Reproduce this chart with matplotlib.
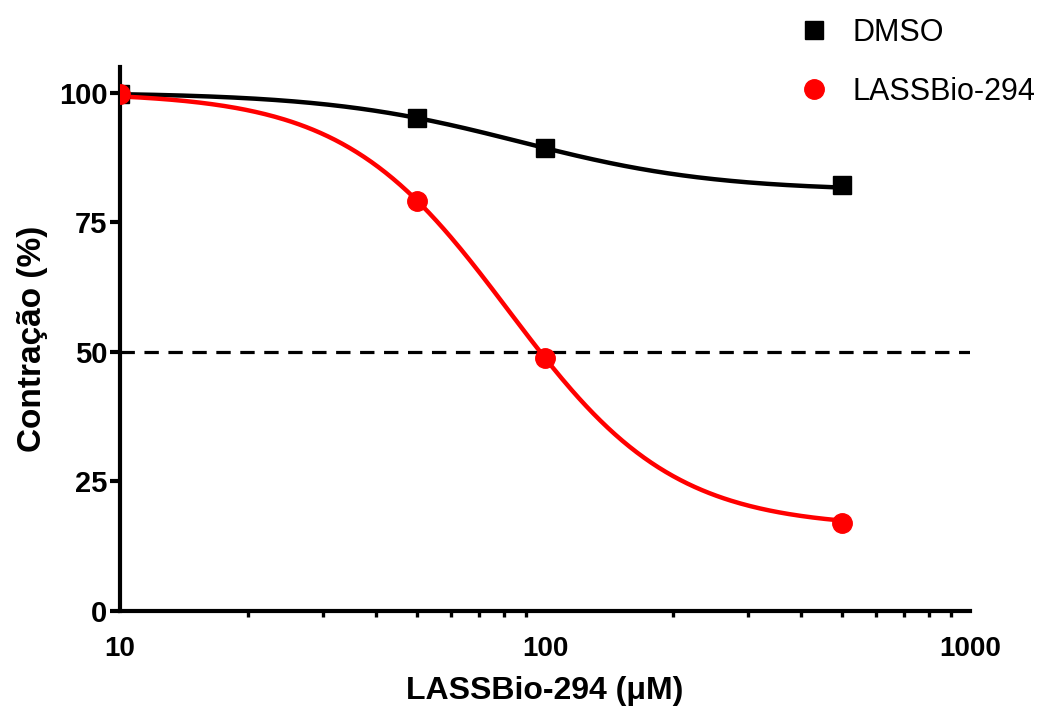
import numpy as np
import matplotlib as mpl
mpl.use('Agg')
import matplotlib.pyplot as plt
from matplotlib.lines import Line2D
from matplotlib.ticker import FixedLocator, NullFormatter, LogLocator

mpl.rcParams.update({'font.family': ['Liberation Sans', 'DejaVu Sans'], 'font.weight': 'bold'})

# concentrations (uM) and % contraction
conc = [10, 50, 100, 500]
dmso = [99.8, 95.1, 89.3, 82.2]
lassbio = [99.8, 79.1, 48.8, 17.0]

# four-parameter logistic fits: top, bottom, IC50, Hill slope
dmso_fit = dict(top=100.0, bottom=81.0, ic50=87.4, hill=1.89)
lassbio_fit = dict(top=100.0, bottom=16.0, ic50=82.0, hill=2.24)

def logistic(x, top, bottom, ic50, hill):
    return bottom + (top - bottom) / (1 + (x / ic50) ** hill)

fig = plt.figure(figsize=(10.54, 7.09), dpi=100)
ax = fig.add_axes([0.1139, 0.1382, 0.8064, 0.7678])

xs = np.logspace(1, np.log10(500), 300)
ax.axhline(50, color='k', lw=2.3, ls=(0, (4.5, 3.0)), zorder=1)
ax.plot(xs, logistic(xs, **dmso_fit), color='k', lw=3.2, zorder=2, solid_capstyle='butt')
ax.plot(xs, logistic(xs, **lassbio_fit), color='#ff0000', lw=3.2, zorder=2, solid_capstyle='butt')
ax.plot(conc, dmso, 's', color='k', ms=13.5, ls='none', zorder=3)
ax.plot(conc, lassbio, 'o', color='#ff0000', ms=14, ls='none', zorder=3)

ax.set_xscale('log')
ax.set_xlim(10, 1000)
ax.set_ylim(0, 105)
ax.xaxis.set_major_locator(FixedLocator([10, 100, 1000]))
ax.set_xticklabels(['10', '100', '1000'])
ax.xaxis.set_minor_locator(LogLocator(base=10, subs=np.arange(2, 10)))
ax.xaxis.set_minor_formatter(NullFormatter())
ax.set_yticks([0, 25, 50, 75, 100])

ax.tick_params(axis='x', which='major', length=0, pad=18, labelsize=20)
ax.tick_params(axis='x', which='minor', length=4, width=2.4, direction='out')
ax.tick_params(axis='y', length=7.5, width=3, pad=1.5, labelsize=21)
for s in ['top', 'right']:
    ax.spines[s].set_visible(False)
for s in ['left', 'bottom']:
    ax.spines[s].set_linewidth(3)

ax.set_xlabel('LASSBio-294 (μM)', fontsize=23, fontweight='bold', labelpad=10)
ax.set_ylabel('Contração (%)', fontsize=24, fontweight='bold', labelpad=8)

handles = [Line2D([], [], marker='s', color='k', ls='none', ms=13.5),
           Line2D([], [], marker='o', color='#ff0000', ls='none', ms=14)]
fig.legend(handles, ['DMSO', 'LASSBio-294'], loc='upper left', bbox_to_anchor=(0.732, 1.014),
           frameon=False, prop={'size': 22, 'weight': 'normal'}, handletextpad=0.75,
           labelspacing=0.95, handlelength=1.0, borderaxespad=0.5)

fig.savefig('out.png', dpi=100)
